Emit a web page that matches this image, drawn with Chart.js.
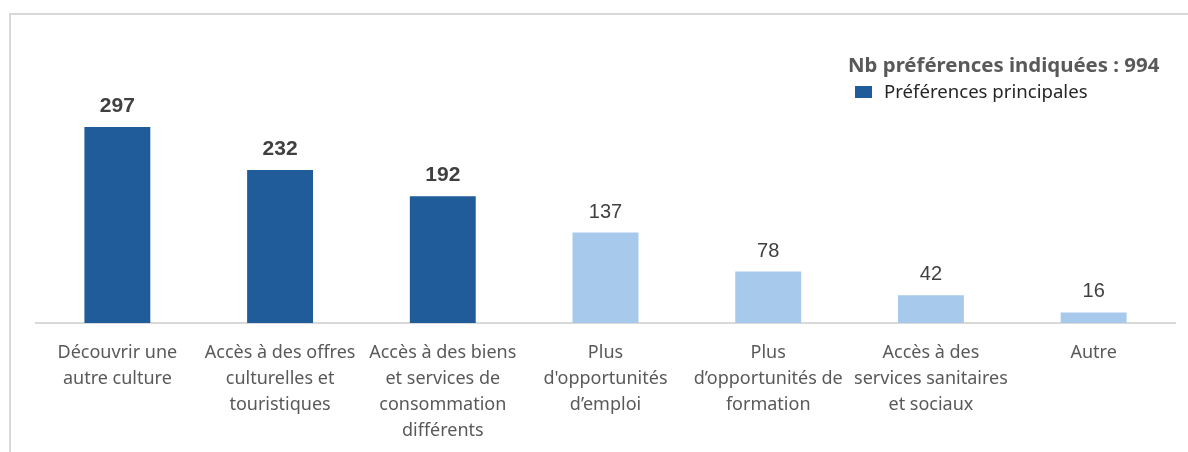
<!DOCTYPE html>
<html lang="fr">
<head>
<meta charset="utf-8">
<title>Préférences indiquées</title>
<script src="https://cdn.jsdelivr.net/npm/chart.js@4.4.1/dist/chart.umd.min.js"></script>
<style>
    html, body { margin: 0; padding: 0; background: #fff; }
    #wrap { position: relative; width: 1188px; height: 452px; overflow: hidden; }
    #cadre {
        position: absolute; left: 9px; top: 13px; width: 1300px; height: 600px;
        border-top: 2px solid #d9d9d9; border-left: 2px solid #d9d9d9;
    }
    #myChart { position: absolute; left: 0; top: 0; }
    #legende { position: absolute; left: 848px; top: 51px; font-family: "Noto Sans", sans-serif; }
    #legendeTitre { font-size: 20.4px; line-height: 27px; font-weight: bold; color: #595959; white-space: nowrap; }
    #legendeItem { margin-left: 7px; font-size: 18.6px; line-height: 26px; color: #262626; white-space: nowrap; }
    #legendeItem span.carre { display: inline-block; width: 17px; height: 12px; margin-right: 12px; vertical-align: 0px; }
</style>
</head>
<body>
<div id="wrap">
    <div id="cadre"></div>
    <canvas id="myChart" width="1188" height="452"></canvas>
    <div id="legende">
        <div id="legendeTitre"></div>
        <div id="legendeItem"><span class="carre"></span>Préférences principales</div>
    </div>
</div>
<script>
// catégories (une ligne par élément du tableau)
const categories = [
    ["Découvrir une", "autre culture"],
    ["Accès à des offres", "culturelles et", "touristiques"],
    ["Accès à des biens", "et services de", "consommation", "différents"],
    ["Plus", "d'opportunités", "d\u2019emploi"],
    ["Plus", "d\u2019opportunités de", "formation"],
    ["Accès à des", "services sanitaires", "et sociaux"],
    ["Autre"]
];
const counts = [297, 232, 192, 137, 78, 42, 16];
const isPrincipal = [true, true, true, false, false, false, false];

const colorMain = "#1f5c99";
const colorOther = "#a6c9ec";

// titre de la légende : total des préférences
let total = 0;
for (let i = 0; i < counts.length; i++) {
    total += counts[i];
}
document.getElementById("legendeTitre").innerText = "Nb préférences indiquées : " + total;
document.querySelector("#legendeItem .carre").style.backgroundColor = colorMain;

// valeurs au-dessus des barres
const valueLabels = {
    id: 'valueLabels',
    afterDatasetsDraw(chart) {
        const ctx = chart.ctx;
        const meta = chart.getDatasetMeta(0);
        ctx.save();
        ctx.textAlign = 'center';
        ctx.textBaseline = 'alphabetic';
        ctx.fillStyle = '#404040';
        meta.data.forEach((bar, i) => {
            if (isPrincipal[i]) {
                ctx.font = 'bold 21px "Liberation Sans", Arial, sans-serif';
            } else {
                ctx.font = '20px "Liberation Sans", Arial, sans-serif';
            }
            ctx.fillText(counts[i], bar.x, bar.y - 15);
        });
        ctx.restore();
    }
};

const ctx = document.getElementById('myChart').getContext('2d');
const myChart = new Chart(ctx, {
    type: 'bar',
    data: {
        labels: categories,
        datasets: [{
            label: 'Préférences principales',
            data: counts,
            backgroundColor: isPrincipal.map(p => p ? colorMain : colorOther),
            borderWidth: 0,
            categoryPercentage: 1,
            barPercentage: 0.405
        }]
    },
    options: {
        responsive: false,
        animation: false,
        layout: { padding: { left: 36, right: 13, top: 26, bottom: 0 } },
        plugins: {
            legend: { display: false },
            tooltip: { enabled: false }
        },
        scales: {
            x: {
                grid: { display: false, drawTicks: false },
                border: { display: true, color: '#d9d9d9', width: 2 },
                ticks: {
                    padding: 17,
                    color: '#595959',
                    maxRotation: 0,
                    autoSkip: false,
                    font: { family: '"Noto Sans", sans-serif', size: 18, lineHeight: 26 / 18 }
                },
                afterFit: function (scale) {
                    scale.height = 129;
                }
            },
            y: {
                display: false,
                min: 0,
                max: 450
            }
        }
    },
    plugins: [valueLabels]
});
</script>
</body>
</html>
